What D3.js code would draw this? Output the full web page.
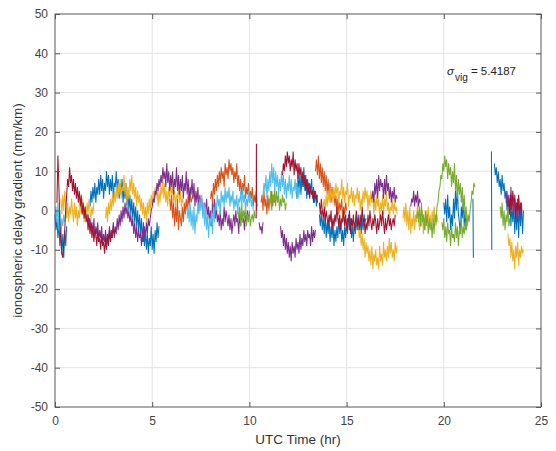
<!DOCTYPE html>
<html>
<head>
<meta charset="utf-8">
<script src="https://cdn.jsdelivr.net/npm/d3@7"></script>
<style>
  body { margin: 0; background: #fff; }
  svg { font-family: "Liberation Sans", Arial, sans-serif; }
</style>
</head>
<body>
<svg id="chart" width="556" height="451"></svg>
<script>
// tick labels
const xTicks = [0, 5, 10, 15, 20, 25];
const yTicks = [-50, -40, -30, -20, -10, 0, 10, 20, 30, 40, 50];

// each segment: [start hour, step (hr), values (mm/km)]
const blueSegs = [
  [0.0, 0.05, [-1, -5, -2, -7, -3, -9, -4, -11, -6, -12, -5, -9, -4]],
  [1.8, 0.05, [1, 5, 2, 6, 3, 7, 2, 6, 4, 8, 4, 9, 5, 8, 3, 7, 5, 10, 6, 9, 4, 8, 5, 9, 3, 7, 6, 10, 5, 8,
               3, 7, 4, 8, 2, 6, 3, 7, 1, 5, 0, 4, -1, 3, -2, 2, -3, 1, -4, 0, -5, -1, -6, -2, -8, -3, -9, -5, -10, -6,
               -11, -7, -9, -4, -10, -6, -11, -5, -8, -3, -7, -4]],
  [12.4, 0.05, [7, 3, 9, 5, 10, 4, 8, 6, 11, 5, 9, 3, 8, 4, 7, 5, 8, 3, 6, 2, 5, 1, 4]],
  [13.6, 0.05, [-1, -4, 0, -5, -2, -6, -1, -7, -3, -6, -2, -8, -4, -7, -3, -9, -5, -8, -4, -7, -2, -6, -3, -8, -5,
                -9, -4, -7, -3, -6, -1, -5, -2, -7, -4, -8, -3, -6, -2, -5, -1, -4, -3, -6, -2, -5, -1, -3, -2]],
  [20.0, 0.05, [2, -1, 3, -3, 4, -2, 1, -5, -1, -4, 3, -2, 5, 0, 6, -1, -3, -6, 1, -2, 3, -4, 0, -5, -2]],
  [21.5, 0.01, [3, -5, -12]],
  [22.45, 0.01, [15, 0, -10]],
  [22.6, 0.05, [12, 9, 11, 7, 10, 6, 8, 4, 9, 5, 7, 3, 5, 0, 4, -1, 3, -4, 1, -3, 2, -6, 0, -5, 3, -7, 1, -4, 2, -6, 0]]
];
const orangeSegs = [
  [5.9, 0.05, [3, 0, 4, -2, 2, -4, 1, -3, 3, -5, 0, -2, -4, 1, -3, 2, -1, 3, 0, 4, 1, 5, 2, 3, 4]],
  [8.0, 0.05, [3, 5, 2, 7, 4, 8, 5, 9, 6, 10, 7, 11, 8, 10, 6, 12, 9, 11, 8, 13, 10, 12, 9, 11, 7, 10, 8, 12, 6, 9,
               5, 8, 4, 7, 5, 9, 3, 6, 4, 7, 2, 5, 3, 6, 1, 4, 2, 5, 1]],
  [10.6, 0.05, [2, 4, 0, 5, 1, 3, -1, 4, 0, 3, 2, 5, 1, 4, 2]],
  [13.4, 0.05, [10, 13, 9, 14, 8, 12, 7, 11, 6, 10, 5, 9, 4, 8, 3, 7, 2, 6, 3, 5, 1, 4, 0, 3, -1, 2, 0, 3, -2, 1, -1, 2, 0]]
];
const yellowSegs = [
  [0.3, 0.05, [3, -1, 4, 0, 5, 1, -2, 2, -3, 1, -1, 3, 0, -3, 2, -2, 1, -4, 0, -2, 2, -1, 3, 0, -3, 1, -2, 2, -1, 3, 0, -2, 1, -1, 2]],
  [2.6, 0.05, [-2, 1, -3, 2, -1, 3, 0, 4, 1, 5, 2, 6, 3, 7, 4, 8, 3, 6, 5, 9, 4, 7, 2, 6, 3, 8, 5, 9, 4, 7,
               3, 6, 1, 5, 2, 4, 0, 3, -1, 2, -2, 1, -3, 2, -1, 3, 0, 4, 1, 5, 2, 6, 3, 7, 1, 5, 2, 6, 4, 8,
               3, 7, 2, 5, 1, 6, 3, 7, 4, 6, 2, 5, 1, 4, 3, 6, 2, 5, 1, 3, 2]],
  [13.8, 0.05, [1, 3, 0, 4, 1, 5, 2, 6, 3, 5, 2, 6, 3, 7, 4, 6, 2, 5, 4, 8, 3, 6, 2, 5, 4, 7, 1, 4, 3, 6,
                2, 5, 1, 4, 3, 6, 2, 5, 0, 3, 1, 5, 2, 6, 3, 5, 0, 4, 1, 5, 2, 4, -1, 3, 0, 4, 1, 3, -2, 2,
                0, 4, -1, 3, 1, 5, 0, 2, -2, 1, 0, 3, -1, 2, 0, 1, -1]],
  [15.6, 0.05, [-4, -7, -5, -9, -6, -10, -7, -12, -8, -11, -9, -13, -10, -14, -9, -15, -11, -13, -10, -14, -12,
                -15, -9, -13, -11, -14, -8, -12, -10, -13, -9, -12, -7, -11, -8, -12, -10, -13, -8, -11, -9]],
  [17.9, 0.05, [-2, 1, -3, 2, -4, 0, -5, 1, -6, -2, -4, 0, -5, -1, -3, 2, -2, -5, -1, -4, 0, -6, -2, -5, 0, -3,
                1, -4, -1, -5, 0, -3, 1, -2, -4, -1, -3]],
  [23.3, 0.05, [-6, -9, -7, -12, -8, -13, -10, -15, -9, -12, -8, -14, -10, -12, -9, -11, -10]]
];
const purpleSegs = [
  [1.7, 0.05, [-1, -3, -2, -5, -3, -6, -2, -7, -4, -6, -3, -8, -5, -7, -4, -9, -6, -8, -5, -9, -6, -8, -4, -7, -5,
               -6, -3, -7, -4, -6, -2, -5, -1, -4, 0, -3, 1, -2, 2, -1, 1, -2, 0, -3, -1, -4, -2, -6, -3, -7,
               -4, -8, -5, -7, -6, -9, -5, -8, -4, -7, -3, -6, -2, -4, -2]],
  [4.9, 0.05, [-2, 0, 1, 3, 2, 5, 4, 7, 5, 8, 6, 9, 7, 11, 8, 10, 6, 12, 7, 10, 5, 9, 6, 10, 4, 8, 6, 11, 5, 9,
               4, 8, 5, 9, 3, 7, 5, 10, 4, 8, 2, 6, 4, 8, 3, 7, 1, 5, 2, 6, 0, 4, 1, 3, 0]],
  [7.7, 0.05, [2, -1, 3, -2, 1, -3, 0, -4, 2, -1, 3, -2, 1, -3, -1, -4, 0, -5, -2, -4, 1, -3, 0, -2, -4, -1, -5,
               -2, -6, -3, -1, -4, 0, -3, -2, -6, -1, -4, 0, -3, -2, -5, -1, -3, 0, -2, -1]],
  [10.5, 0.05, [-3, -5, -4, -6, -3]],
  [11.6, 0.05, [-4, -7, -5, -9, -6, -10, -7, -11, -8, -12, -9, -13, -8, -11, -9, -12, -7, -10, -8, -11, -6, -10,
                -7, -9, -5, -8, -6, -9, -5, -7, -6, -9, -4, -8, -5, -7, -5]],
  [16.3, 0.05, [3, 5, 2, 7, 4, 8, 3, 9, 5, 8, 6, 7, 3, 8, 4, 9, 5, 7, 3, 6, 2, 5, 3, 6, 2, 4, 3]],
  [18.3, 0.05, [1, 3, 2, 5, 1, 4, 2, 5, 1, 3, 2]],
  [23.2, 0.05, [2, 5, 0, 4, -1, 6, 1, 3, -2, 4, 0, 2, -3, 3, -1, 1, -2]]
];
const greenSegs = [
  [9.4, 0.05, [0, -2, 1, -4, 2, -3, 0, -2, 1, -4, -1, -3, 0, -4, -2, -1, -3, 0, -2]],
  [11.0, 0.05, [3, 1, 5, 0, 4, 2, 6, 1, 5, 2, 4, 0, 3, 1, 4, 2, 3, 0, 2]],
  [18.6, 0.05, [-2, 0, -3, 1, -4, 2, -3, -1, -5, 0, -4, -1, -6, -2, -5, -3, -7, -2, -6, -1, -3, 1, 2, 5, 6, 9, 8,
                12, 10, 14, 11, 13, 8, 12, 9, 11, 6, 10, 7, 12, 5, 9, 3, 8, 4, 7, 2, 6, 0, 4, -2, 1, -4, -1, -3,
                0, 2, 5, 4, 7, 6]],
  [19.9, 0.05, [-3, -5, -2, -7, -4, -8, -3, -6, -5, -9, -4, -7, -6, -8, -3, -7, -4, -9, -5, -6, -2, -7, -4, -6, -3, -5, -2]],
  [22.9, 0.05, [1, -2, 2, -4, 0, -5, -1, -3, 1, -4, -2]]
];
const lightBlueSegs = [
  [0.0, 0.05, [-2, 1, -3, 2, -5, 0, -6, -2, -4, -1, -3]],
  [6.8, 0.05, [-2, 1, -3, 2, -4, 0, -5, 1, -6, -1, -3, 2, -1, 3, 0, 4, -2, 2, -4, 1, -5, -1, -7, -2, -4, 0, -6, 1,
               -3, 2, 0, 4, 1, 3, -1, 5, 2, 4, 1, 6, 2, 5, 3, 6, 1, 4, 2, 5, 0, 3, 1, 4, -1, 3, 2, 5, 1, 6, 2, 4,
               0, 3, 1, 5, 2, 4, 1, 3, 0]],
  [10.7, 0.05, [4, 7, 5, 9, 3, 8, 5, 10, 6, 12, 7, 11, 5, 10, 6, 9, 4, 8, 5, 10, 6, 9, 4, 8, 3, 7, 5, 9, 4, 8, 3,
                6, 5, 8, 4, 7, 3, 6, 4]]
];
const darkRedSegs = [
  [0.1, 0.05, [2, 14, 6, -3, -8, -11, -12, -9, -5, 0, 4, 8, 6, 11, 7, 9, 5, 8, 4, 7, 3, 6, 2, 5, 1, 4, -1, 2, -2, 1,
               -3, -1, -5, -2, -6, -3, -7, -4, -8, -5, -6, -9, -5, -8, -7, -10, -6, -9, -8, -11, -7, -10, -6, -9,
               -5, -8, -6, -7, -4, -6, -5]],
  [10.35, 0.01, [-2, 17, 0]],
  [11.7, 0.05, [9, 12, 10, 14, 11, 15, 12, 14, 10, 13, 11, 15, 9, 13, 10, 12, 8, 12, 9, 11, 7, 10, 6, 9, 5, 8, 4, 7,
                3, 6, 4, 5, 2, 5, 3, 4, 2]],
  [13.6, 0.05, [2, -1, 3, 0, -2, 1, -3, 0, -2, -4, -1, -3, 0, -5, -2, -4, -1, -3, 1, -2, -4, -1, -5, -2, -3, 0, -4,
                -1, -5, -2, -3, 0, -6, -2, -4, -1, -5, -3, 0, -4, -2, -5, -1, -4, 1, -3, -2, -6, -3, -5, -1, -4, 0,
                -3, -5, -2, -4, -1, -3, -6, -2, -5, -3, -1, -4, 0, -3, -6, -2, -5, -3, -1, -4, -2, -5, -3, -2, -4, -1]],
  [23.3, 0.05, [1, 3, -1, 4, 0, 5, 2, 3, -2, 2, 0, 4, -1, 2, 0]]
];

const series = [
  { segs: blueSegs, color: '#0072BD' },
  { segs: orangeSegs, color: '#D95319' },
  { segs: yellowSegs, color: '#EDB120' },
  { segs: purpleSegs, color: '#7E2F8E' },
  { segs: greenSegs, color: '#77AC30' },
  { segs: lightBlueSegs, color: '#4DBEEE' },
  { segs: darkRedSegs, color: '#A2142F' }
];

const svg = d3.select('#chart');
const mLeft = 55, mRight = 541, mTop = 14, mBottom = 407;

const x = d3.scaleLinear().domain([0, 25]).range([mLeft, mRight]);
const y = d3.scaleLinear().domain([-50, 50]).range([mBottom, mTop]);

// grid
svg.append('g').selectAll('line')
  .data(xTicks.slice(1, -1))
  .enter().append('line')
  .attr('x1', d => x(d)).attr('x2', d => x(d))
  .attr('y1', mTop).attr('y2', mBottom)
  .attr('stroke', '#e3e3e3');
svg.append('g').selectAll('line')
  .data(yTicks.slice(1, -1))
  .enter().append('line')
  .attr('x1', mLeft).attr('x2', mRight)
  .attr('y1', d => y(d)).attr('y2', d => y(d))
  .attr('stroke', '#e3e3e3');

// traces
const line = d3.line()
  .x(d => x(d[0]))
  .y(d => y(d[1]));

const plot = svg.append('g');
series.forEach(s => {
  s.segs.forEach(seg => {
    const pts = seg[2].map((v, i) => [seg[0] + i * seg[1], v]);
    plot.append('path')
      .datum(pts)
      .attr('fill', 'none')
      .attr('stroke', s.color)
      .attr('stroke-width', 1.05)
      .attr('d', line);
  });
});

// axes (box with inward ticks)
const axisColor = '#595959';
const tick = 5;
const fmt = d => String(d);
const xAxis = d3.axisBottom(x).tickValues(xTicks).tickSize(-tick).tickPadding(9).tickFormat(fmt);
const yAxis = d3.axisLeft(y).tickValues(yTicks).tickSize(-tick).tickPadding(7).tickFormat(fmt);

svg.append('g')
  .attr('transform', `translate(0,${mBottom})`)
  .call(xAxis)
  .call(g => g.select('.domain').remove());
svg.append('g')
  .attr('transform', `translate(${mLeft},0)`)
  .call(yAxis)
  .call(g => g.select('.domain').remove());
svg.append('g')
  .attr('transform', `translate(0,${mTop})`)
  .call(d3.axisTop(x).tickValues(xTicks).tickSize(-tick).tickFormat(''))
  .call(g => g.select('.domain').remove());
svg.append('g')
  .attr('transform', `translate(${mRight},0)`)
  .call(d3.axisRight(y).tickValues(yTicks).tickSize(-tick).tickFormat(''))
  .call(g => g.select('.domain').remove());

svg.selectAll('.tick line').attr('stroke', axisColor);
svg.selectAll('.tick text')
  .attr('fill', '#444')
  .style('font-size', '12px')
  .style('font-family', '"Liberation Sans", Arial, sans-serif');

svg.append('rect')
  .attr('x', mLeft).attr('y', mTop)
  .attr('width', mRight - mLeft).attr('height', mBottom - mTop)
  .attr('fill', 'none')
  .attr('stroke', axisColor)
  .attr('stroke-width', 1);

// labels
svg.append('text')
  .attr('x', (mLeft + mRight) / 2)
  .attr('y', 444)
  .attr('text-anchor', 'middle')
  .attr('fill', '#333')
  .style('font-size', '13.5px')
  .text('UTC Time (hr)');

svg.append('text')
  .attr('transform', `translate(22,${(mTop + mBottom) / 2}) rotate(-90)`)
  .attr('text-anchor', 'middle')
  .attr('fill', '#333')
  .style('font-size', '13.5px')
  .text('ionospheric delay gradient (mm/km)');

const note = svg.append('text')
  .attr('x', 447)
  .attr('y', 75)
  .attr('fill', '#222')
  .style('font-size', '11.5px');
note.append('tspan').style('font-style', 'italic').text('σ');
note.append('tspan').attr('dy', 6).attr('dx', 1).style('font-size', '10px').text('vig');
note.append('tspan').attr('dy', -6).text(' = 5.4187');
</script>
</body>
</html>
